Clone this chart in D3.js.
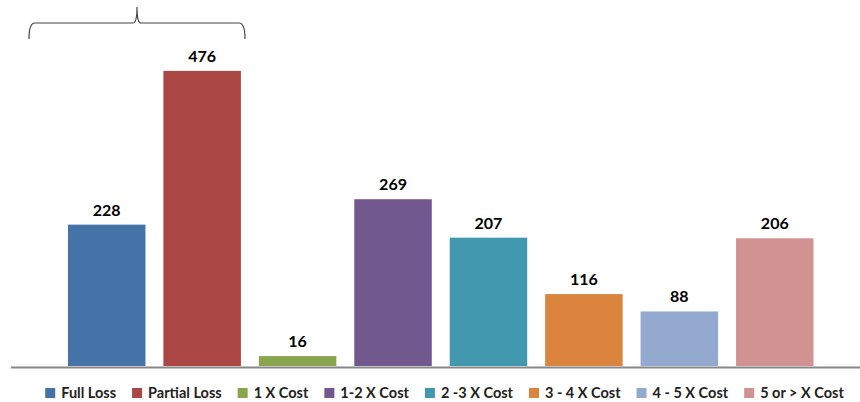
<!DOCTYPE html>
<html>
<head>
<meta charset="utf-8">
<script src="https://cdn.jsdelivr.net/npm/d3@7"></script>
<style>
  body { margin: 0; background: #fff; }
  svg { display: block; font-family: Lato, "Open Sans", sans-serif; }
  .value { font-size: 16px; font-weight: bold; fill: #000; text-anchor: middle; }
  .legend text { font-size: 14.5px; font-weight: bold; fill: #222; }
</style>
</head>
<body>
<svg id="chart" width="860" height="402"></svg>
<script>
var categories = ["Full Loss", "Partial Loss", "1 X Cost", "1-2 X Cost", "2 -3 X Cost", "3 - 4 X Cost", "4 - 5 X Cost", "5 or > X Cost"];
var values = [228, 476, 16, 269, 207, 116, 88, 206];
var colors = ["#4572A7", "#AA4643", "#89A54E", "#71588F", "#4198AF", "#DB843D", "#93A9CF", "#D19392"];

var width = 860, height = 402;
var baseY = 366;

var svg = d3.select("#chart");

var x = d3.scaleBand()
    .domain(categories)
    .range([59, 822.5])
    .paddingInner(0.188)
    .paddingOuter(0.094);

var y = d3.scaleLinear()
    .domain([0, 500])
    .range([baseY, 56]);

var color = d3.scaleOrdinal().domain(categories).range(colors);

var data = categories.map(function (c, i) {
    return { cat: c, value: values[i] };
});

// bars
svg.append("g").selectAll("rect")
    .data(data)
    .enter()
    .append("rect")
    .attr("x", function (d) { return x(d.cat); })
    .attr("y", function (d) { return y(d.value); })
    .attr("width", x.bandwidth())
    .attr("height", function (d) { return baseY - y(d.value); })
    .attr("fill", function (d) { return color(d.cat); });

// value labels
svg.append("g").selectAll("text")
    .data(data)
    .enter()
    .append("text")
    .attr("class", "value")
    .attr("x", function (d) { return x(d.cat) + x.bandwidth() / 2; })
    .attr("y", function (d) { return y(d.value) - 9; })
    .text(function (d) { return d.value; });

// category axis line
svg.append("line")
    .attr("x1", 11)
    .attr("x2", width)
    .attr("y1", baseY + 1.5)
    .attr("y2", baseY + 1.5)
    .style("stroke", "#888")
    .style("stroke-width", 2);

// brace over the first two bars
var bl = 29, br = 245, bm = 137, bt = 23, bb = 39;
svg.append("path")
    .attr("d", "M" + bl + "," + bb + " Q" + bl + "," + bt + " " + (bl + 6) + "," + bt
        + " L" + (bm - 4) + "," + bt + " Q" + bm + "," + bt + " " + bm + "," + 7
        + " Q" + bm + "," + bt + " " + (bm + 4) + "," + bt
        + " L" + (br - 6) + "," + bt + " Q" + br + "," + bt + " " + br + "," + bb)
    .style("fill", "none")
    .style("stroke", "#444")
    .style("stroke-width", 1.2);

// legend, laid out from measured text widths and centred
var legend = svg.append("g").attr("class", "legend");
var items = legend.selectAll("g")
    .data(categories)
    .enter()
    .append("g");

items.append("rect")
    .attr("width", 10)
    .attr("height", 10)
    .attr("y", -10)
    .attr("fill", function (d) { return color(d); });

items.append("text")
    .attr("x", 16)
    .attr("y", 0)
    .text(function (d) { return d; });

var gap = 16;
var pos = 0, offsets = [];
items.each(function () {
    offsets.push(pos);
    pos += 16 + d3.select(this).select("text").node().getComputedTextLength() + gap;
});
var total = pos - gap;
var startX = 444.5 - total / 2;
items.attr("transform", function (d, i) { return "translate(" + (startX + offsets[i]) + ",398)"; });
</script>
</body>
</html>
